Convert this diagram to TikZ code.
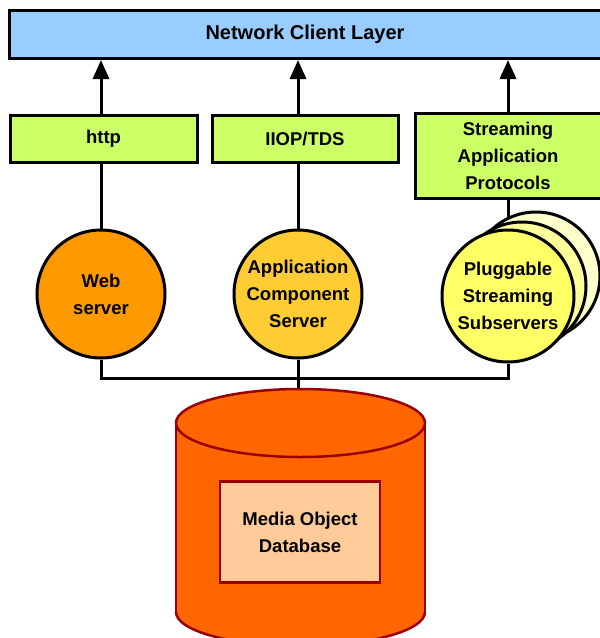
\documentclass[tikz,border=0pt]{standalone}
\usepackage{fontspec}
\setmainfont{Liberation Sans}
\usetikzlibrary{arrows.meta}
\definecolor{netblue}{HTML}{99CCFF}
\definecolor{grn}{HTML}{CCFF66}
\definecolor{weborange}{HTML}{FF9900}
\definecolor{appyellow}{HTML}{FFCC33}
\definecolor{plugA}{HTML}{FFFF66}
\definecolor{plugB}{HTML}{FFFF99}
\definecolor{plugC}{HTML}{FFFFCC}
\definecolor{dborange}{HTML}{FF6600}
\definecolor{dbred}{HTML}{990000}
\definecolor{peach}{HTML}{FFCC99}
\pgfdeclarelayer{bg}
\pgfsetlayers{bg,main}
\begin{document}
\begin{tikzpicture}[x=1pt,y=-1pt,
  txt/.style={font=\bfseries\fontsize{18.5}{27}\selectfont, align=center, text=black},
  bar/.style={txt, draw=black, line width=3pt, fill=netblue, inner sep=0pt},
  gbox/.style={txt, draw=black, line width=3pt, fill=grn, inner sep=0pt},
  srv/.style={txt, circle, draw=black, line width=3pt, minimum size=128pt, inner sep=0pt},
  conn/.style={line width=3pt, draw=black},
  arr/.style={conn, -{Triangle[length=19pt,width=16pt]}},
  dbline/.style={draw=dbred, line width=2.5pt}]
\clip (0,0) rectangle (600,638);
\useasboundingbox (0,0) rectangle (600,638);

% top layer
\node[bar, minimum width=592pt, minimum height=48pt, font=\bfseries\fontsize{20}{27}\selectfont] (ncl) at (305,34.5) {Network Client Layer};

% protocol boxes
\node[gbox, minimum width=187pt, minimum height=47pt] (http) at (103.5,138.5) {http};
\node[gbox, minimum width=186pt, minimum height=47pt] (iiop) at (305,138.5) {IIOP/TDS};
\node[gbox, minimum width=186pt, minimum height=85pt] (sap) at (508,156) {Streaming\\Application\\Protocols};

% servers
\node[srv, fill=weborange] (web) at (101,294) {Web\\server};
\node[srv, fill=appyellow] (app) at (298,294) {Application\\Component\\Server};
\node[srv, fill=plugC] (plug3) at (536,276) {};
\node[srv, fill=plugB] (plug2) at (522,286) {};
\node[srv, fill=plugA, minimum size=132pt] (plug) at (508,296) {Pluggable\\Streaming\\Subservers};

\coordinate (bus) at (298,378);
\coordinate (dbtop) at (298,392);

% database cylinder
\fill[dborange] (176,423) rectangle (425,612);
\fill[dborange] (300.5,612) ellipse [x radius=124.5, y radius=34];
\begin{scope}
  \clip (160,612) rectangle (440,660);
  \draw[dbline] (300.5,612) ellipse [x radius=124.5, y radius=34];
\end{scope}
\draw[dbline] (176,423) -- (176,612);
\draw[dbline] (425,423) -- (425,612);
\draw[dbline, fill=dborange] (300.5,423) ellipse [x radius=124.5, y radius=34];
\node[txt, dbline, fill=peach, minimum width=160pt, minimum height=101pt, inner sep=0pt] (mod) at (300,532) {Media Object\\Database};

% connectors
\begin{pgfonlayer}{bg}
  \draw[conn] (web.north) -- (web.north |- http.south);
  \draw[arr] (web.north |- http.north) -- (web.north |- ncl.south);
  \draw[conn] (app.north) -- (app.north |- iiop.south);
  \draw[arr] (app.north |- iiop.north) -- (app.north |- ncl.south);
  \draw[conn] (plug.center) -- (plug.center |- sap.south);
  \draw[arr] (plug.center |- sap.north) -- (plug.center |- ncl.south);
  \draw[conn] (web.south) |- (bus) -| (plug.south);
  \draw[conn] (app.south) -- (dbtop);
\end{pgfonlayer}
\end{tikzpicture}
\end{document}
